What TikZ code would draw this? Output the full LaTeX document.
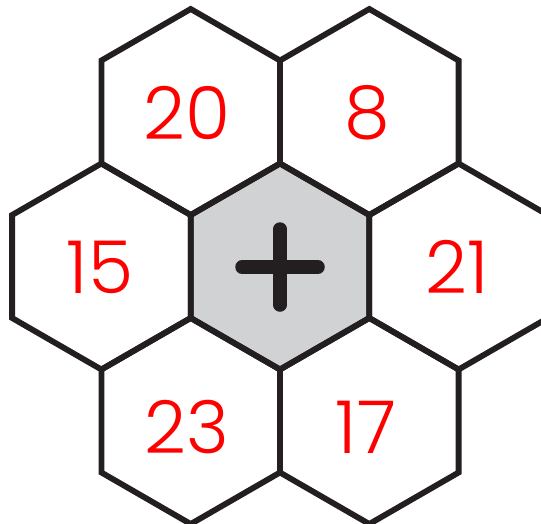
\documentclass[tikz,border=0pt]{standalone}
\usepackage{fontspec}
\setmainfont{Poppins}[UprightFont=* Light]
\begin{document}
\begin{tikzpicture}[x=1pt,y=-1pt,
  hexline/.style={draw=hexdark,line width=5.8pt,line join=miter},
  num/.style={text=red,font=\fontsize{73}{73}\selectfont,inner sep=0pt},
  plusbar/.style={draw=hexdark,line width=13.5pt,line cap=round}]
\definecolor{hexdark}{HTML}{231F20}
\definecolor{hexgray}{HTML}{D1D2D4}
\useasboundingbox (0,0) rectangle (541,523);
\clip (0,0) rectangle (541,523);
\def\R{103}
\def\W{89.3}
\newcommand{\hexat}[3]{%
  \path[hexline,#3] (#1,#2-\R) -- (#1+\W,#2-\R/2) -- (#1+\W,#2+\R/2) -- (#1,#2+\R) -- (#1-\W,#2+\R/2) -- (#1-\W,#2-\R/2) -- cycle;}
\hexat{280}{266.5}{fill=hexgray}
\hexat{190.7}{112}{}
\hexat{369.3}{112}{}
\hexat{101.4}{266.5}{}
\hexat{458.6}{266.5}{}
\hexat{190.7}{421}{}
\hexat{369.3}{421}{}
\node[num] (n20) at (187,113) {20};
\node[num] (n8) at (367,113) {8};
\node[num] (n15) at (100,267) {15};
\node[num] (n21) at (457,267) {21};
\node[num] (n23) at (187,427) {23};
\node[num] (n17) at (366,427) {17};
\coordinate (pl) at (242,267);
\coordinate (pr) at (318,267);
\coordinate (pt) at (280,229);
\coordinate (pb) at (280,305);
\draw[plusbar] (pl) -- (pr);
\draw[plusbar] (pt) -- (pb);
\end{tikzpicture}
\end{document}
